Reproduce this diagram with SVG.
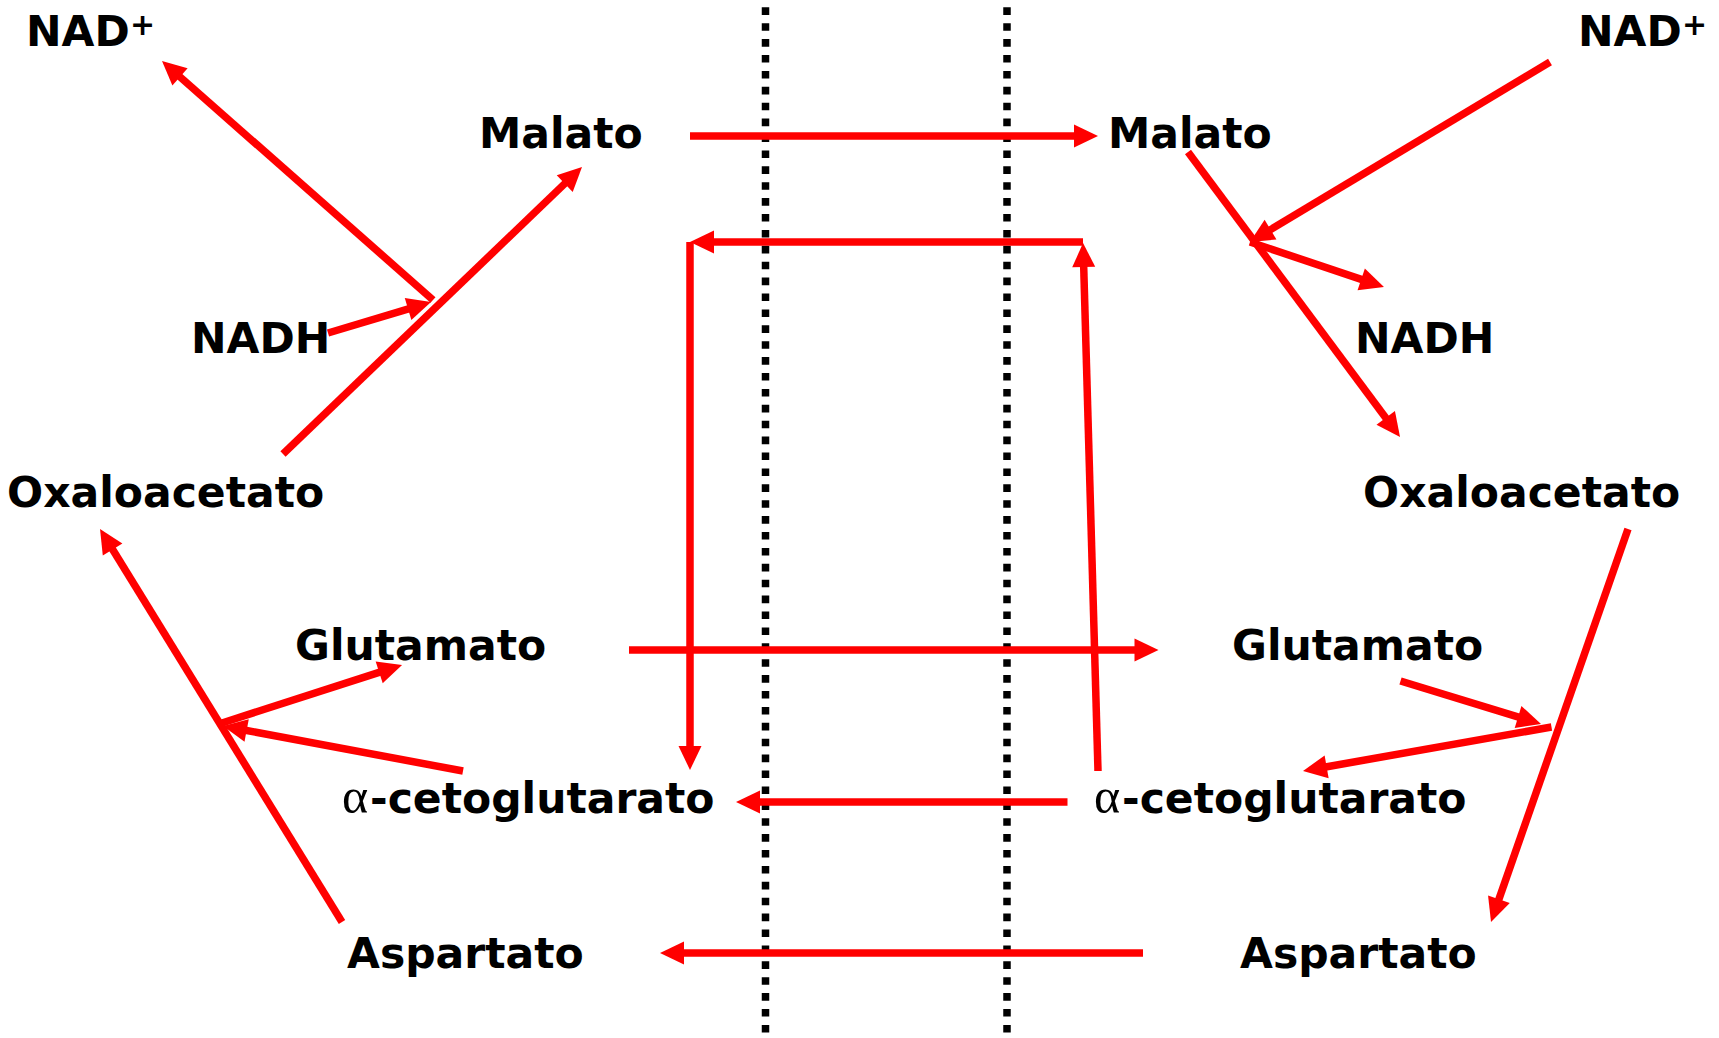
<svg xmlns="http://www.w3.org/2000/svg" width="1719" height="1038" viewBox="0 0 1719 1038">
<defs>
<marker id="ah" markerUnits="userSpaceOnUse" markerWidth="24" markerHeight="24" refX="4" refY="12" orient="auto" overflow="visible">
<path d="M0,0.5 L24,12 L0,23.5 z" fill="#ff0000"/>
</marker>
<style>
.lbl{font-family:"DejaVu Sans","Verdana",sans-serif;font-weight:bold;font-size:42.5px;fill:#000}
.sup{font-weight:bold;font-size:30px}
.alpha{font-family:"Liberation Serif","Times New Roman",serif;font-weight:normal;font-size:50px}
.c{stroke:#ff0000;stroke-width:7.5;fill:none;stroke-linecap:butt}
.a{marker-end:url(#ah)}
.mem{stroke:#000;stroke-width:7.5;stroke-dasharray:7.6 8.3;fill:none}
</style>
</defs>
<rect width="1719" height="1038" fill="#fff"/>
<g id="membranes">
<line class="mem" x1="765.5" y1="7.3" x2="765.5" y2="1038"/>
<line class="mem" x1="1007" y1="7.3" x2="1007" y2="1038"/>
</g>
<g id="connectors">
<line class="c a" x1="283" y1="454" x2="567.6" y2="180.9"/>
<line class="c a" x1="433" y1="300" x2="177" y2="74.2"/>
<line class="c a" x1="328" y1="333" x2="411.9" y2="307.8"/>
<line class="c a" x1="342" y1="922" x2="110.5" y2="546"/>
<line class="c a" x1="222" y1="723" x2="383" y2="671.1"/>
<line class="c a" x1="463" y1="771" x2="242.7" y2="729.7"/>
<line class="c a" x1="690" y1="136" x2="1078" y2="136"/>
<line class="c a" x1="1098" y1="771" x2="1083.6" y2="263"/>
<line class="c a" x1="1083" y1="242" x2="710" y2="242"/>
<line class="c a" x1="690" y1="242" x2="690" y2="750"/>
<line class="c a" x1="629" y1="650" x2="1138.5" y2="650"/>
<line class="c a" x1="1067.5" y1="802" x2="756" y2="802"/>
<line class="c a" x1="1143" y1="953" x2="680" y2="953"/>
<line class="c a" x1="1188" y1="152" x2="1388.1" y2="421"/>
<line class="c a" x1="1550" y1="62" x2="1267.1" y2="231.7"/>
<line class="c a" x1="1250" y1="242" x2="1365" y2="280.6"/>
<line class="c a" x1="1628" y1="529" x2="1497.6" y2="903.1"/>
<line class="c a" x1="1400.5" y1="681" x2="1521.9" y2="718.1"/>
<line class="c a" x1="1551.5" y1="727" x2="1322.7" y2="767.5"/>
</g>
<g id="nad-left"><text class="lbl" x="26" y="45.7">NAD<tspan class="sup" x="130" y="35">+</tspan></text></g>
<g id="malato-left"><text class="lbl" x="479" y="148">Malato</text></g>
<g id="nadh-left"><text class="lbl" x="191" y="353">NADH</text></g>
<g id="oxaloacetato-left"><text class="lbl" x="7" y="507">Oxaloacetato</text></g>
<g id="glutamato-left"><text class="lbl" x="295" y="660">Glutamato</text></g>
<g id="cetoglutarato-left"><text class="lbl" x="342" y="813"><tspan class="alpha">α</tspan><tspan x="370">-cetoglutarato</tspan></text></g>
<g id="aspartato-left"><text class="lbl" x="347" y="968">Aspartato</text></g>
<g id="nad-right"><text class="lbl" x="1578" y="45.7">NAD<tspan class="sup" x="1682" y="35">+</tspan></text></g>
<g id="malato-right"><text class="lbl" x="1108" y="148">Malato</text></g>
<g id="nadh-right"><text class="lbl" x="1355" y="353">NADH</text></g>
<g id="oxaloacetato-right"><text class="lbl" x="1363" y="507">Oxaloacetato</text></g>
<g id="glutamato-right"><text class="lbl" x="1232" y="660">Glutamato</text></g>
<g id="cetoglutarato-right"><text class="lbl" x="1094" y="813"><tspan class="alpha">α</tspan><tspan x="1122">-cetoglutarato</tspan></text></g>
<g id="aspartato-right"><text class="lbl" x="1240" y="968">Aspartato</text></g>
</svg>
